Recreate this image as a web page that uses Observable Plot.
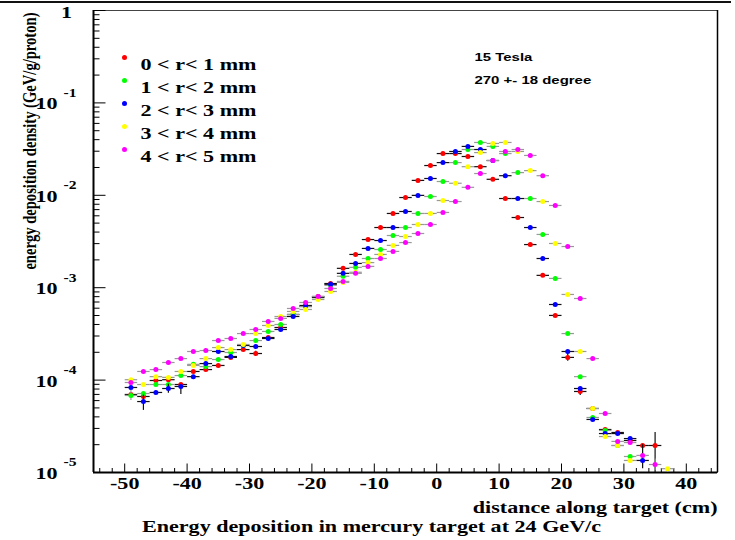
<!DOCTYPE html>
<html><head><meta charset="utf-8">
<script src="https://cdn.jsdelivr.net/npm/d3@7"></script>
<script src="https://cdn.jsdelivr.net/npm/@observablehq/plot@0.6"></script>
<style>
body{margin:0;background:#fff;}
#wrap{position:relative;width:735px;height:540px;overflow:hidden;}
#topline{position:absolute;left:0;top:1px;width:731px;height:2px;background:#111;}
#chart{position:absolute;left:0;top:0;}
</style></head><body>
<div id="wrap"><div id="topline"></div><div id="chart"></div></div>
<script>
// bin centres (cm), bins are 2 cm wide
const xBins = [-49,-47,-45,-43,-41,-39,-37,-35,-33,-31,-29,-27,-25,-23,-21,-19,-17,-15,-13,-11,-9,-7,-5,-3,-1,1,3,5,7,9,11,13,15,17,19,21,23,25,27,29,31,33,35,37];
const binHalfWidth = 1;

const red = [6.99e-5,6.65e-5,9.9e-5,1.01e-4,8.96e-5,1.24e-4,1.30e-4,1.44e-4,1.76e-4,2.14e-4,1.94e-4,2.89e-4,3.71e-4,5.13e-4,6.26e-4,8.03e-4,1.11e-3,1.62e-3,2.29e-3,3.32e-3,4.48e-3,6.36e-3,9.46e-3,1.45e-2,2.10e-2,2.83e-2,2.83e-2,2.63e-2,2.04e-2,1.49e-2,9.23e-3,5.75e-3,2.93e-3,1.36e-3,5.01e-4,1.76e-4,7.53e-5,4.93e-5,2.92e-5,2.71e-5,2.22e-5,1.96e-5,1.96e-5,null];
const green = [6.82e-5,7.16e-5,8.96e-5,8.96e-5,1.12e-4,1.48e-4,1.40e-4,1.67e-4,1.99e-4,2.37e-4,2.68e-4,3.36e-4,4.00e-4,5.13e-4,6.26e-4,7.83e-4,1.06e-3,1.33e-3,1.66e-3,2.07e-3,2.59e-3,3.67e-3,4.48e-3,6.36e-3,9.70e-3,1.41e-2,2.26e-2,3.13e-2,3.73e-2,3.38e-2,2.83e-2,1.76e-2,9.23e-3,3.77e-3,1.26e-3,3.19e-4,1.09e-4,3.94e-5,2.85e-5,1.96e-5,1.49e-5,null,null,null];
const blue = [8.32e-5,5.86e-5,7.35e-5,8.11e-5,8.53e-5,1.09e-4,1.51e-4,2.04e-4,1.80e-4,2.37e-4,2.31e-4,2.82e-4,3.53e-4,4.88e-4,6.42e-4,7.83e-4,1.09e-3,1.43e-3,1.83e-3,2.66e-3,3.24e-3,4.48e-3,6.68e-3,9.98e-3,1.52e-2,2.26e-2,2.98e-2,3.38e-2,3.13e-2,2.38e-2,1.63e-2,9.23e-3,4.48e-3,2.07e-3,6.58e-4,2.04e-4,8.11e-5,3.75e-5,2.64e-5,2.64e-5,2.33e-5,1.35e-5,null,null];
const yellow = [1.01e-4,8.96e-5,1.09e-4,1.07e-4,1.24e-4,1.44e-4,1.71e-4,2.25e-4,2.14e-4,2.43e-4,3.19e-4,3.90e-4,4.88e-4,5.53e-4,5.81e-4,7.45e-4,9.10e-4,1.14e-3,1.47e-3,1.87e-3,2.29e-3,2.87e-3,3.58e-3,4.83e-3,6.36e-3,8.78e-3,1.35e-2,2.04e-2,2.90e-2,3.64e-2,3.73e-2,2.98e-2,1.85e-2,8.56e-3,3.01e-3,8.45e-4,2.04e-4,4.93e-5,2.45e-5,1.96e-5,1.35e-5,null,null,1.10e-5];
const magenta = [9.42e-5,1.24e-4,1.30e-4,1.55e-4,1.71e-4,2.04e-4,2.09e-4,2.68e-4,2.82e-4,3.19e-4,3.53e-4,4.31e-4,4.65e-4,5.96e-4,6.92e-4,8.03e-4,9.81e-4,1.17e-3,1.43e-3,1.70e-3,2.07e-3,2.47e-3,3.08e-3,3.86e-3,4.83e-3,6.52e-3,8.56e-3,1.22e-2,1.72e-2,2.38e-2,2.98e-2,3.13e-2,2.70e-2,1.63e-2,7.76e-3,2.79e-3,7.64e-4,1.71e-4,4.35e-5,2.17e-5,2.11e-5,1.53e-5,1.22e-5,null];

const seriesNames = ["0 < r< 1 mm","1 < r< 2 mm","2 < r< 3 mm","3 < r< 4 mm","4 < r< 5 mm"];
const seriesValues = [red, green, blue, yellow, magenta];

// visible vertical error bars
const errSeries = [2, 0, 1, 2, 0, 0, 2, 0, 0, 4];
const errX      = [-47, -41, -49, -43, -29, 35, 33, 23, 21, 35];
const errLo     = [4.7e-5, 7.0e-5, 6.0e-5, 7.2e-5, 1.82e-4, 1.0e-5, 1.1e-5, 6.8e-5, 1.6e-4, 1.05e-5];
const errHi     = [6.9e-5, 9.2e-5, 7.7e-5, 9.0e-5, 2.05e-4, 2.71e-5, 2.0e-5, 8.2e-5, 1.95e-4, 1.4e-5];

const xDomain = [-55, 45];
const yDomain = [1e-5, 1];
const xMajor = [-50,-40,-30,-20,-10,0,10,20,30,40];
const xTickLabels = ["-50","-40","-30","-20","-10","0","10","20","30","40"];
const xMinorStep = 2;
const yExponents = [0,-1,-2,-3,-4,-5];
const yExpLabels = ["","-1","-2","-3","-4","-5"];

const annotations = ["15 Tesla", "270 +- 18 degree"];
const xTitle = "distance along target (cm)";
const yTitle = "energy deposition density (GeV/g/proton)";
const caption = "Energy deposition in mercury target at 24 GeV/c";

// styles
const markerColors = ["#ff0000","#00ff00","#0000ff","#ffff00","#ff00ff"];
const barColors = ["#111","#999","#111","#999","#999"];
const serif = "'Liberation Serif','Times New Roman',serif";
const sans = "'Liberation Sans',Arial,sans-serif";

const xMinor = d3.range(xDomain[0] + 1, xDomain[1], xMinorStep).filter(v => !xMajor.includes(v));
const yMajor = yExponents.map(e => Math.pow(10, e));
const yMinor = [];
for (const e of yExponents.slice(1)) for (let k = 2; k <= 9; k++) yMinor.push(k * Math.pow(10, e));

const tickRight = L => ({draw(ctx){ ctx.moveTo(0,0); ctx.lineTo(L,0); }});
const tickUp = L => ({draw(ctx){ ctx.moveTo(0,0); ctx.lineTo(0,-L); }});

const marks = [];
// frame
marks.push(Plot.frame({stroke: "#444", strokeWidth: 1}));
marks.push(Plot.ruleX([xDomain[0]], {stroke: "#000", strokeWidth: 2}));
marks.push(Plot.ruleY([yDomain[0]], {stroke: "#000", strokeWidth: 2}));
marks.push(Plot.ruleX([xDomain[1]], {stroke: "#000", strokeWidth: 1.5}));
// ticks
marks.push(Plot.dot(yMajor, {y: d => d, frameAnchor: "left", symbol: tickRight(12), stroke: "#000", fill: "none", strokeWidth: 1}));
marks.push(Plot.dot(yMinor, {y: d => d, frameAnchor: "left", symbol: tickRight(6), stroke: "#000", fill: "none", strokeWidth: 1}));
marks.push(Plot.dot(xMajor, {x: d => d, frameAnchor: "bottom", symbol: tickUp(9), stroke: "#000", fill: "none", strokeWidth: 1}));
marks.push(Plot.dot(xMinor, {x: d => d, frameAnchor: "bottom", symbol: tickUp(4.5), stroke: "#000", fill: "none", strokeWidth: 1}));

// data
seriesValues.forEach((vals, s) => {
  const rows = xBins.map((x, i) => ({x, v: vals[i]})).filter(d => d.v != null);
  const errs = errSeries.map((ss, i) => ({ss, x: errX[i], lo: errLo[i], hi: errHi[i]})).filter(d => d.ss === s);
  marks.push(Plot.link(rows, {x1: d => d.x - binHalfWidth, x2: d => d.x + binHalfWidth, y1: "v", y2: "v", stroke: barColors[s], strokeWidth: 1.2}));
  marks.push(Plot.ruleX(errs, {x: "x", y1: "lo", y2: "hi", stroke: barColors[s], strokeWidth: 1.2}));
  marks.push(Plot.dot(rows, {x: "x", y: "v", r: 2.5, fill: markerColors[s], stroke: "none"}));
});

// legend
seriesNames.forEach((name, s) => {
  marks.push(Plot.dot([name], {frameAnchor: "top-left", dx: 31, dy: 47 + 23 * s, r: 2.5, fill: markerColors[s], stroke: "none"}));
  marks.push(Plot.text([name], {frameAnchor: "top-left", dx: 47, dy: 47 + 23 * s, text: d => d, textAnchor: "start", fontFamily: serif, fontWeight: "bold", fontSize: 17, fill: "#000"}));
});
// annotations
annotations.forEach((t, i) => {
  marks.push(Plot.text([t], {frameAnchor: "top-left", dx: 381, dy: 42 + 23 * i, text: d => d, textAnchor: "start", fontFamily: sans, fontWeight: "bold", fontSize: 11.5, fill: "#000"}));
});
// x tick labels
marks.push(Plot.text(xMajor, {x: d => d, frameAnchor: "bottom", dy: 16, text: (d, i) => xTickLabels[i], textAnchor: "middle", fontFamily: serif, fontWeight: "bold", fontSize: 17, fill: "#000"}));
// y tick labels
const yBase = yMajor.filter(v => v < 1);
marks.push(Plot.text(yBase, {y: d => d, frameAnchor: "left", dx: -36, dy: 1, text: () => "10", textAnchor: "end", fontFamily: serif, fontWeight: "bold", fontSize: 17, fill: "#000"}));
marks.push(Plot.text(yBase, {y: d => d, frameAnchor: "left", dx: -30, dy: -10, text: (d, i) => yExpLabels[i + 1], textAnchor: "start", fontFamily: serif, fontWeight: "bold", fontSize: 12, fill: "#000"}));
marks.push(Plot.text([1], {y: d => d, frameAnchor: "left", dx: -27, dy: 2, text: () => "1", textAnchor: "middle", fontFamily: serif, fontWeight: "bold", fontSize: 17, fill: "#000"}));
// titles
marks.push(Plot.text([xTitle], {frameAnchor: "bottom-right", dy: 40, text: d => d, textAnchor: "end", fontFamily: serif, fontWeight: "bold", fontSize: 17, fill: "#000"}));
marks.push(Plot.text([caption], {frameAnchor: "bottom", dx: -34, dy: 59, text: d => d, textAnchor: "middle", fontFamily: serif, fontWeight: "bold", fontSize: 17, fill: "#000"}));
marks.push(Plot.text([yTitle], {frameAnchor: "top-left", dx: -71, dy: 2, rotate: -90, text: d => d, textAnchor: "end", fontFamily: serif, fontWeight: "bold", fontSize: 14.6, fill: "#000"}));

const chart = Plot.plot({
  width: 735, height: 540,
  marginLeft: 93, marginRight: 18, marginTop: 10, marginBottom: 68,
  x: {domain: xDomain, axis: null},
  y: {type: "log", domain: yDomain, axis: null},
  style: {background: "transparent", overflow: "visible"},
  marks
});

// the reference's lettering is horizontally widened
const S = 1.3;
chart.querySelectorAll("text").forEach(t => {
  const tr = t.getAttribute("transform");
  if (!tr) return;
  const rotated = /rotate/.test(tr);
  t.setAttribute("transform", tr + (rotated ? ` scale(1,${S})` : ` scale(${S},1)`));
});
document.getElementById("chart").append(chart);
</script>
</body></html>
